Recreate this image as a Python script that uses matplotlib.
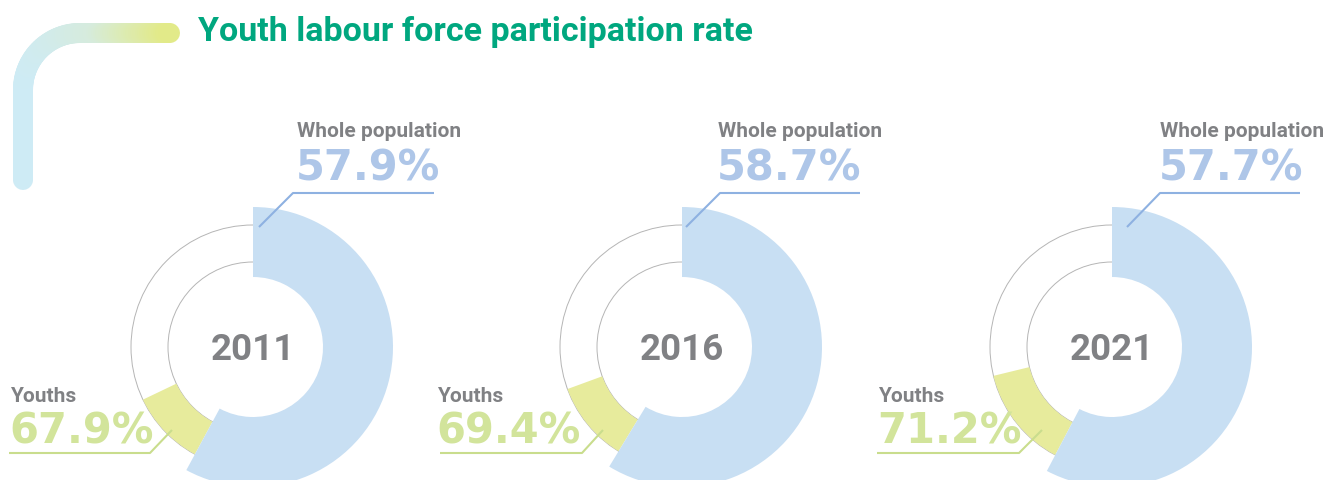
import numpy as np
import matplotlib
matplotlib.use("Agg")
import matplotlib.pyplot as plt
from matplotlib.patches import Circle
from matplotlib.collections import LineCollection
from matplotlib.colors import LinearSegmentedColormap

# ---------------- data ----------------
title = "Youth labour force participation rate"
years = ["2011", "2016", "2021"]
whole_population = [57.9, 58.7, 57.7]
youths = [67.9, 69.4, 71.2]
label_whole = "Whole population"
label_youth = "Youths"

# ---------------- style ----------------
BLUE = "#c8dff3"
YELLOW = "#e7eb9c"
RING = "#b5b5b5"
GRAY_TXT = "#808184"
BLUE_TXT = "#aec6e8"
GREEN_TXT = "#d2e49b"
BLUE_LINE = "#8eb1e1"
GREEN_LINE = "#c9dd8d"
TITLE_C = "#00a77f"
FONT = "Roboto"
NUMFONT = "DejaVu Sans"

W, H = 1330, 480
fig = plt.figure(figsize=(13.3, 4.8), dpi=100)
ax = fig.add_axes([0, 0, 1, 1])


def Y(py):
    return H - py


# layout (pixels)
centers_x = [253, 682, 1112]
center_y = 347
R_BLUE, W_BLUE = 140, 70
R_RING_OUT, R_RING_IN = 122, 85

whole_lbl_x = [297, 718, 1160]
wl_start_x = [259, 686, 1127]
wl_elbow_x = [293, 720, 1160]
wl_end_x = [434, 860, 1300]

youth_lbl_x = [10, 437, 878]
yl_start_x = [172, 603, 1042]
yl_elbow_x = [150, 582, 1019]
yl_end_x = [9, 440, 877]

for i, yr in enumerate(years):
    cx, cy = centers_x[i], Y(center_y)
    wp, yp = whole_population[i], youths[i]
    # thin gray rings
    for r in (R_RING_OUT, R_RING_IN):
        ax.add_patch(Circle((cx, cy), r, fill=False, edgecolor=RING, lw=0.7, zorder=1))
    # youth wedge (between rings)
    ax.pie([wp, yp - wp, 100 - yp], radius=R_RING_OUT, center=(cx, cy), startangle=90,
           counterclock=False, colors=["none", YELLOW, "none"],
           wedgeprops=dict(width=R_RING_OUT - R_RING_IN, linewidth=0, zorder=2))
    # whole population wedge
    ax.pie([wp, 100 - wp], radius=R_BLUE, center=(cx, cy), startangle=90,
           counterclock=False, colors=[BLUE, "none"],
           wedgeprops=dict(width=W_BLUE, linewidth=0, zorder=3))
    # year in centre
    ax.text(cx, Y(360), yr, ha="center", va="baseline", fontsize=26.5, fontweight="bold",
            color=GRAY_TXT, family=FONT, zorder=5)
    # whole population label
    ax.text(whole_lbl_x[i], Y(137), label_whole, ha="left", va="baseline", fontsize=15,
            fontweight="bold", color=GRAY_TXT, family=FONT, zorder=5)
    ax.text(whole_lbl_x[i] - 1, Y(180.7), f"{wp:.1f}%", ha="left", va="baseline",
            fontsize=30, fontweight="bold", color=BLUE_TXT, family=NUMFONT, zorder=5)
    ax.plot([wl_start_x[i], wl_elbow_x[i], wl_end_x[i]], [Y(227), Y(193), Y(193)],
            color=BLUE_LINE, lw=1.5, solid_capstyle="butt", zorder=6)
    # youth label
    ax.text(youth_lbl_x[i], Y(402), label_youth, ha="left", va="baseline", fontsize=15,
            fontweight="bold", color=GRAY_TXT, family=FONT, zorder=5)
    ax.text(youth_lbl_x[i] - 1, Y(444), f"{yp:.1f}%", ha="left", va="baseline",
            fontsize=30, fontweight="bold", color=GREEN_TXT, family=NUMFONT, zorder=5)
    ax.plot([yl_start_x[i], yl_elbow_x[i], yl_end_x[i]], [Y(430), Y(453), Y(453)],
            color=GREEN_LINE, lw=1.5, solid_capstyle="butt", zorder=6)

# title
ax.text(198, Y(40.5), title, ha="left", va="baseline", fontsize=24.5, fontweight="bold",
        color=TITLE_C, family=FONT)

# decorative gradient corner stroke
pts = []
for yy in np.linspace(180, 90, 40):
    pts.append((23, yy))
for a in np.linspace(np.pi, 1.5 * np.pi, 40):
    pts.append((80 + 57 * np.cos(a), 90 + 57 * np.sin(a)))
for xx in np.linspace(80, 170, 40):
    pts.append((xx, 33))
pts = np.array(pts)
pts[:, 1] = H - pts[:, 1]
segs = np.stack([pts[:-1], pts[1:]], axis=1)
cmap = LinearSegmentedColormap.from_list("deco", ["#cdebf8", "#d6ebdd", "#e4ea7c"])
xm = (segs[:, 0, 0] + segs[:, 1, 0]) / 2
cols = cmap((xm - 13) / (180 - 13))
lc = LineCollection(segs, colors=cols, linewidths=14.4, capstyle="round", zorder=0)
ax.add_collection(lc)

ax.set_xlim(0, W)
ax.set_ylim(0, H)
ax.set_aspect("auto")
ax.set_axis_off()
fig.savefig("out.png", dpi=100, facecolor="white")
